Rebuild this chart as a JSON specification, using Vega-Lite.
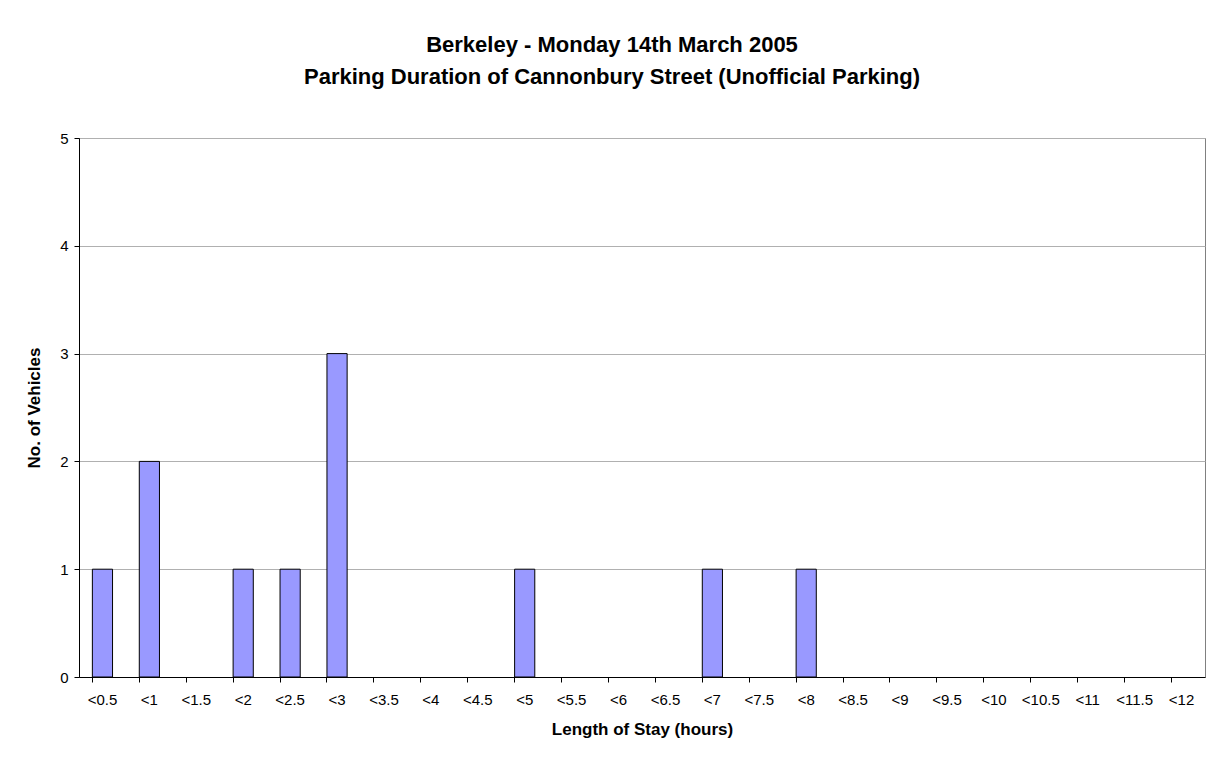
{
  "$schema": "https://vega.github.io/schema/vega-lite/v6.json",
  "autosize": {"type": "none"},
  "padding": {"left": 79, "top": 138, "right": 2, "bottom": 81},
  "width": 1126,
  "height": 539,
  "background": "white",
  "title": {
    "text": ["Berkeley - Monday 14th March 2005", "Parking Duration of Cannonbury Street (Unofficial Parking)"],
    "font": "Liberation Sans",
    "fontSize": 22,
    "fontWeight": "bold",
    "color": "black",
    "anchor": "middle",
    "lineHeight": 32,
    "offset": 42,
    "dx": -30
  },
  "data": {
    "values": [
      {"stay": "<0.5", "vehicles": 1},
      {"stay": "<1", "vehicles": 2},
      {"stay": "<1.5", "vehicles": 0},
      {"stay": "<2", "vehicles": 1},
      {"stay": "<2.5", "vehicles": 1},
      {"stay": "<3", "vehicles": 3},
      {"stay": "<3.5", "vehicles": 0},
      {"stay": "<4", "vehicles": 0},
      {"stay": "<4.5", "vehicles": 0},
      {"stay": "<5", "vehicles": 1},
      {"stay": "<5.5", "vehicles": 0},
      {"stay": "<6", "vehicles": 0},
      {"stay": "<6.5", "vehicles": 0},
      {"stay": "<7", "vehicles": 1},
      {"stay": "<7.5", "vehicles": 0},
      {"stay": "<8", "vehicles": 1},
      {"stay": "<8.5", "vehicles": 0},
      {"stay": "<9", "vehicles": 0},
      {"stay": "<9.5", "vehicles": 0},
      {"stay": "<10", "vehicles": 0},
      {"stay": "<10.5", "vehicles": 0},
      {"stay": "<11", "vehicles": 0},
      {"stay": "<11.5", "vehicles": 0},
      {"stay": "<12", "vehicles": 0}
    ]
  },
  "mark": {"type": "bar", "color": "#9999FF", "stroke": "black", "strokeWidth": 1},
  "encoding": {
    "x": {
      "field": "stay",
      "type": "nominal",
      "sort": null,
      "scale": {"paddingInner": 0.57, "paddingOuter": 0.285},
      "axis": {
        "title": "Length of Stay (hours)",
        "titleFont": "Liberation Sans",
        "titleFontSize": 17,
        "titleFontWeight": "bold",
        "titleColor": "black",
        "titlePadding": 14,
        "labelAngle": 0,
        "labelFont": "Liberation Sans",
        "labelFontSize": 15,
        "labelColor": "black",
        "labelPadding": 10,
        "bandPosition": 0,
        "tickColor": "black",
        "tickSize": 5,
        "domainColor": "black",
        "grid": false
      }
    },
    "y": {
      "field": "vehicles",
      "type": "quantitative",
      "scale": {"domain": [0, 5], "nice": false},
      "axis": {
        "title": "No. of Vehicles",
        "titleFont": "Liberation Sans",
        "titleFontSize": 17,
        "titleFontWeight": "bold",
        "titleColor": "black",
        "titlePadding": 16,
        "values": [0, 1, 2, 3, 4, 5],
        "labelFont": "Liberation Sans",
        "labelFontSize": 15,
        "labelColor": "black",
        "labelPadding": 6,
        "tickColor": "black",
        "tickSize": 5,
        "domainColor": "black",
        "grid": true,
        "gridColor": "#b0b0b0"
      }
    },
    "strokeOpacity": {
      "condition": {"test": "datum.vehicles > 0", "value": 1},
      "value": 0
    }
  },
  "config": {
    "view": {"stroke": "#808080", "strokeWidth": 1}
  }
}
